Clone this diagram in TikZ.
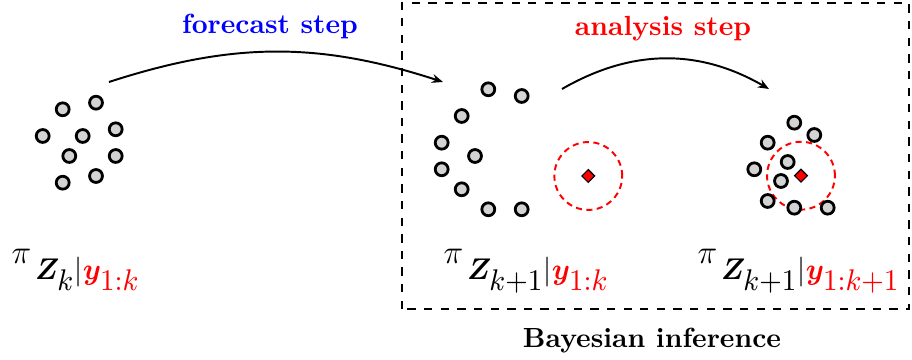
\documentclass[tikz,border=0pt]{standalone}
\usepackage{amsmath,bm,graphicx}
\usetikzlibrary{positioning,arrows.meta,shapes.geometric}
\definecolor{fcblue}{HTML}{0000FF}
\definecolor{anred}{HTML}{FF0000}
\definecolor{partgray}{HTML}{D3D3D3}
\DeclareMathSizes{12}{12}{9}{9}
\newcommand{\postlabel}[2]{{\fontsize{13}{15}\selectfont$\pi$}\hspace{1.4pt}\raisebox{-6pt}{\scalebox{1.13}[1.2]{$\scriptstyle\bm{Z}_{#1}|\textcolor{anred}{\bm{y}_{#2}}$}}}
\tikzset{
  particle/.style={circle,draw=black,fill=partgray,line width=1pt,inner sep=0pt,minimum size=4.66pt},
  obsregion/.style={circle,draw=anred,dash pattern=on 2.2pt off 1.6pt,line width=0.7pt,inner sep=0pt,minimum size=24.5pt},
  obsmark/.style={diamond,draw=black,fill=anred,line width=0.4pt,inner sep=0pt,minimum size=4.8pt},
  steparrow/.style={line width=0.7pt,-{Stealth[length=4pt,width=3.2pt]}},
  postlabelnode/.style={anchor=base west,inner sep=0pt,font=\large}
}
\begin{document}
\begin{tikzpicture}[x=0.361pt,y=0.361pt]
\useasboundingbox (0,0) rectangle (912,360);
% Bayesian inference box (dashed) round the two right-hand ensembles
\draw[dashed,line width=0.7pt] (402,51) rectangle (909,357);
\node[font=\bfseries] (bayes) at (652,19) {Bayesian inference};
% Observation regions: dashed circle with the observation mark
\node[obsregion] (obs-mid) at (588.3,184) {};
\node[obsregion] (obs-right) at (801,184.3) {};
% Ensembles: prior at k, forecast at k+1, analysis at k+1
\foreach \px/\py [count=\i] in {62.7/250.7,96/257.3,42.7/224,82.7/224,115.7/230.7,69.3/204,115.7/204,62.7/177.3,96/184}
  \node[particle] (left\i) at (\px,\py) {};
\foreach \px/\py [count=\i] in {488.3/270.7,521.7/264,461.7/244,441.7/217.3,475/204,441.7/190.7,461.7/170.7,488.3/150.7,521.7/150.7}
  \node[particle] (mid\i) at (\px,\py) {};
\foreach \px/\py [count=\i] in {794.3/237.3,814.3/225,767.7/217.3,787.7/198,754.3/190.7,781/179,767.7/159,794.3/152.3,827.7/152.3}
  \node[particle] (right\i) at (\px,\py) {};
\node[obsmark] (mark-mid) at (obs-mid.center) {};
\node[obsmark] (mark-right) at (obs-right.center) {};
% Step arrows and their titles
\coordinate (fc-start) at (109,278);
\coordinate (fc-end) at (443,278);
\draw[steparrow] (fc-start) to[bend left=18] (fc-end);
\node[font=\bfseries,text=fcblue] (fc-title) at (270,333) {forecast step};
\coordinate (an-start) at (562,271);
\coordinate (an-end) at (769,271);
\draw[steparrow] (an-start) to[bend left=30] (an-end);
\node[font=\bfseries,text=anred] (an-title) at (663,331) {analysis step};
% Posterior / predictive labels
\node[postlabelnode] (lab-left) at (11,96.7) {\postlabel{k}{1:k}};
\node[postlabelnode] (lab-mid) at (443,96.7) {\postlabel{k+1}{1:k}};
\node[postlabelnode] (lab-right) at (697,96.7) {\postlabel{k+1}{1:k+1}};
\end{tikzpicture}
\end{document}
